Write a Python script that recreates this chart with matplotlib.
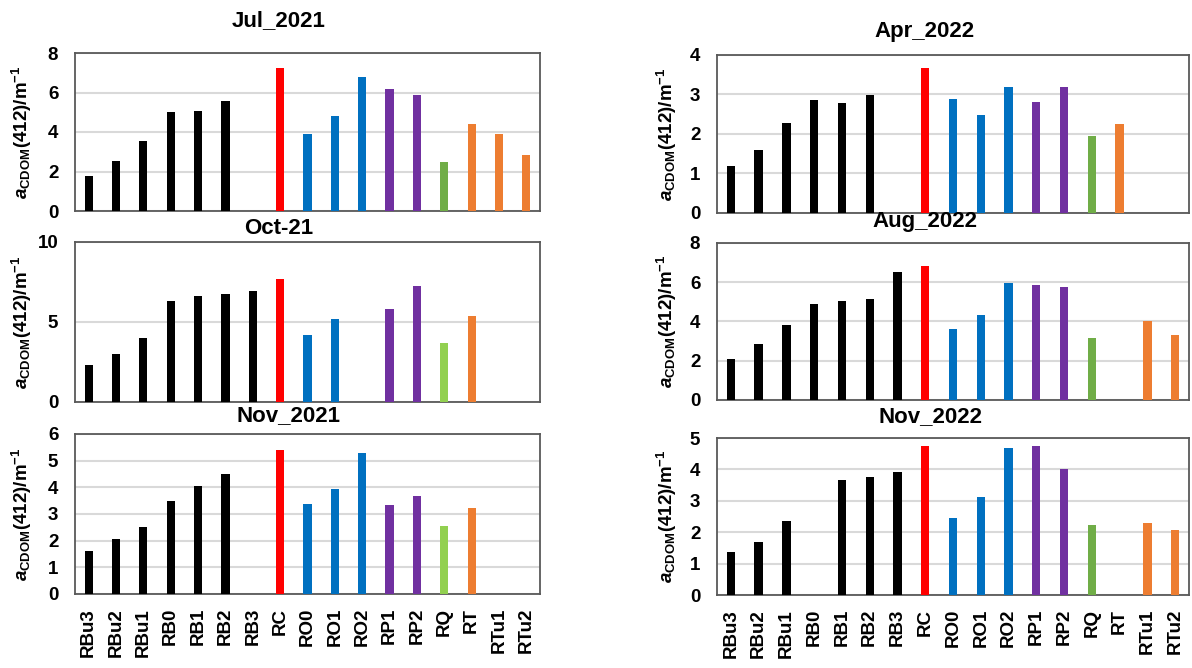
import matplotlib
matplotlib.use('Agg')
import matplotlib.pyplot as plt
import numpy as np

plt.rcParams['font.family'] = ['Liberation Sans', 'DejaVu Sans']
plt.rcParams['font.weight'] = 'bold'
plt.rcParams['mathtext.fontset'] = 'custom'
plt.rcParams['mathtext.rm'] = 'Liberation Sans:bold'
plt.rcParams['mathtext.bf'] = 'Liberation Sans:bold'
plt.rcParams['mathtext.it'] = 'Liberation Sans:italic'

# Estaciones
stations = ['RBu3', 'RBu2', 'RBu1', 'RB0', 'RB1', 'RB2', 'RB3', 'RC', 'RO0', 'RO1',
            'RO2', 'RP1', 'RP2', 'RQ', 'RT', 'RTu1', 'RTu2']
nan = np.nan

# Valores de aCDOM(412) por campaña
jul_2021 = [1.76, 2.52, 3.56, 5.02, 5.08, 5.56, nan, 7.25, 3.92, 4.81, 6.78, 6.17, 5.88, 2.49, 4.41, 3.92, 2.83]
oct_2021 = [2.30, 2.99, 4.00, 6.29, 6.62, 6.72, 6.93, 7.68, 4.17, 5.19, nan, 5.79, 7.24, 3.69, 5.37, nan, nan]
nov_2021 = [1.62, 2.06, 2.53, 3.48, 4.05, 4.50, nan, 5.41, 3.39, 3.93, 5.29, 3.32, 3.68, 2.54, 3.23, nan, nan]
apr_2022 = [1.18, 1.60, 2.28, 2.86, 2.79, 2.98, nan, 3.67, 2.88, 2.47, 3.18, 2.82, 3.20, 1.94, 2.25, nan, nan]
aug_2022 = [2.09, 2.86, 3.80, 4.90, 5.06, 5.16, 6.50, 6.83, 3.63, 4.34, 5.96, 5.84, 5.77, 3.15, nan, 4.02, 3.30]
nov_2022 = [1.37, 1.69, 2.37, nan, 3.65, 3.77, 3.91, 4.73, 2.44, 3.12, 4.69, 4.73, 4.01, 2.23, nan, 2.29, 2.06]

# Colores por grupo
black, red, blue, purple, orange = 'black', '#FF0000', '#0070C0', '#7030A0', '#ED7D31'
green, lightgreen = '#70AD47', '#92D050'

def colores(rq):
    return [black] * 7 + [red] + [blue] * 3 + [purple] * 2 + [rq] + [orange] * 3

W, H = 1192, 668
fig = plt.figure(figsize=(W / 100, H / 100), dpi=100)

# (datos, titulo, ymax, paso, caja en px [x0, x1, top, bottom], centro titulo px, color RQ, etiquetas x)
paneles = [
    (jul_2021, 'Jul_2021', 8, 2, (75, 540, 53, 211), (279, 21), green, False),
    (oct_2021, 'Oct-21', 10, 5, (75, 540, 242, 402), (279, 228), lightgreen, False),
    (nov_2021, 'Nov_2021', 6, 1, (75, 540, 434, 594), (288, 416), lightgreen, True),
    (apr_2022, 'Apr_2022', 4, 1, (717, 1189, 55, 213), (925, 32), green, False),
    (aug_2022, 'Aug_2022', 8, 2, (717, 1189, 243, 400), (925, 222), green, False),
    (nov_2022, 'Nov_2022', 5, 1, (717, 1189, 438, 595), (931, 417), green, True),
]

x = np.arange(len(stations))
ylabel = r'$\mathit{a}_{\mathbf{CDOM}}\mathbf{(412)/m^{-1}}$'

for datos, titulo, ymax, paso, caja, tpos, rq, etiquetas in paneles:
    x0, x1, top, bottom = caja
    ax = fig.add_axes([x0 / W, 1 - bottom / H, (x1 - x0) / W, (bottom - top) / H])
    vals = np.array(datos, dtype=float)
    cols = colores(rq)
    ok = ~np.isnan(vals)
    ax.bar(x[ok], vals[ok], width=0.3, color=[c for c, m in zip(cols, ok) if m], zorder=3)
    ax.set_xlim(-0.5, len(stations) - 0.5)
    ax.set_ylim(0, ymax)
    ax.set_yticks(np.arange(0, ymax + 0.01, paso))
    ax.grid(axis='y', color='#D9D9D9', linewidth=1.5, zorder=0)
    for s in ax.spines.values():
        s.set_color('#595959')
        s.set_linewidth(1.3)
    ax.tick_params(axis='both', length=0, labelsize=13.5)
    ax.tick_params(axis='y', pad=12)
    ax.set_xticks(x)
    if etiquetas:
        ax.set_xticklabels(stations, rotation=90, fontsize=13.5, fontweight='bold')
        ax.tick_params(axis='x', pad=10)
    else:
        ax.set_xticklabels([])
    for lab in ax.get_yticklabels():
        lab.set_fontweight('bold')
    fig.text(tpos[0] / W, 1 - tpos[1] / H, titulo, ha='center', va='center',
             fontsize=16, fontweight='bold')
    lx = 22 if x0 < 300 else 667
    fig.text(lx / W, 1 - (top + bottom) / 2 / H, ylabel, rotation=90,
             ha='center', va='center', fontsize=13.5)

fig.savefig('out.png', dpi=100, facecolor='white')
